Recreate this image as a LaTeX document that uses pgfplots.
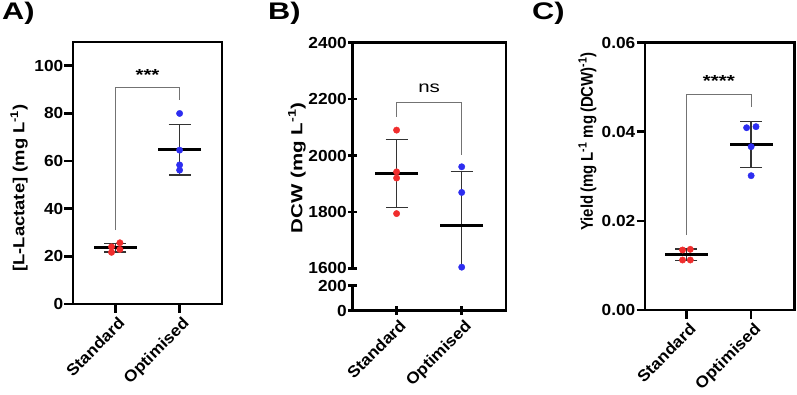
\documentclass[border=0pt]{standalone}
\usepackage{fontspec}
\setmainfont{Liberation Sans}
\newfontfamily\fA{Liberation Sans}[FakeStretch=1.08]
\newfontfamily\fB{Liberation Sans}[FakeStretch=1.28]
\newfontfamily\fC{Liberation Sans}[FakeStretch=0.88]
\newfontfamily\fL{Liberation Sans}[FakeStretch=1.15]
\usepackage{pgfplots}
\pgfplotsset{compat=1.18}

\definecolor{ptred}{RGB}{240,45,45}
\definecolor{ptblue}{RGB}{45,45,240}
\definecolor{brk}{gray}{0.45}

\tikzset{frame/.style={line width=2.7pt, line join=miter, black}}

\pgfplotsset{
  panel/.style={
    scale only axis,
    axis line style={line width=2.7pt, -},
    tick style={line width=2.7pt, black},
    major tick style={line width=2.7pt, black},
    major tick length=8.5pt,
    tick align=outside,
    xtick pos=lower, ytick pos=left,
    xtick={0,1}, xticklabels={Standard,Optimised},
    x tick label style={rotate=45, anchor=north east, inner sep=1pt, yshift=-3pt,
      font=\fA\fontsize{16}{16}\selectfont\bfseries},
    y tick label style={inner sep=1pt,
      font=\fA\fontsize{16}{16}\selectfont\bfseries},
    /pgf/number format/assume math mode=true,
    /pgf/number format/1000 sep={},
  },
  meansd/.style={black, only marks, mark=-, mark size=21.5pt,
    mark options={line width=2.7pt},
    error bars/.cd, y dir=both, y explicit,
    error mark=|,
    error bar style={line width=1.3pt, black!80},
    error mark options={mark size=11pt, line width=1.3pt, black!80}},
  redpts/.style={only marks, mark=*, mark size=3.2pt, ptred,
    mark options={draw=none, fill=ptred}},
  bluepts/.style={only marks, mark=*, mark size=3.2pt, ptblue,
    mark options={draw=none, fill=ptblue}},
  bracket/.style={brk, line width=1pt},
}

\begin{document}
\begin{tikzpicture}
\useasboundingbox (0,0) rectangle (797pt,394pt);

% panel letters
\node[anchor=west, font=\fB\fontsize{24}{24}\selectfont\bfseries, inner sep=0pt] at (2pt,380.5pt) {A)};
\node[anchor=west, font=\fB\fontsize{24}{24}\selectfont\bfseries, inner sep=0pt] at (268pt,380.5pt) {B)};
\node[anchor=west, font=\fB\fontsize{24}{24}\selectfont\bfseries, inner sep=0pt] at (532pt,380.5pt) {C)};

% ---------------- A: L-lactate titre ----------------
\begin{axis}[panel, name=A,
  at={(73pt,90pt)}, anchor=south west,
  width=149pt, height=262pt,
  xmin=-0.66, xmax=1.66, ymin=0, ymax=110,
  ytick={0,20,40,60,80,100},
  ylabel={[L-Lactate] (mg L\textsuperscript{-1})},
  ylabel style={at={(axis description cs:-0.362,0.443)}, anchor=center,
    font=\fL\fontsize{16}{16}\selectfont\bfseries},
]
\addplot[bracket] coordinates {(0,31) (0,90.9) (1,90.9) (1,85.8)};
\node[font=\fB\fontsize{16}{16}\selectfont\bfseries] at (axis cs:0.5,96) {***};
\addplot[meansd] coordinates {(0,23.6) +- (0,1.8) (1,64.8) +- (0,10.7)};
\addplot[redpts] coordinates {(-0.06,24.0) (0.07,25.7) (0.07,22.9) (-0.06,21.7)};
\addplot[bluepts] coordinates {(1,80.0) (1,64.6) (1,58.4) (1,56.2)};
\end{axis}
\draw[frame] (A.south west) rectangle (A.north east);

% ---------------- B: dry cell weight (broken axis) ----------------
\begin{axis}[panel, name=Bup,
  at={(352.3pt,125.7pt)}, anchor=south west,
  width=153.7pt, height=225.6pt,
  axis x line=none, axis y line=left,
  y axis line style={-},
  xtick=\empty,
  xmin=-0.68, xmax=1.68, ymin=1600, ymax=2400,
  ytick={1600,1800,2000,2200,2400},
  ylabel={DCW (mg L\textsuperscript{-1})},
  ylabel style={at={(axis description cs:-0.36,0.445)}, anchor=center,
    font=\fB\fontsize{16}{16}\selectfont\bfseries},
]
\addplot[bracket] coordinates {(0,2138) (0,2189) (1,2189) (1,2002)};
\node[font=\fB\fontsize{16}{16}\selectfont] at (axis cs:0.5,2240) {ns};
\addplot[meansd] coordinates {(0,1936.5) +- (0,121) (1,1751) +- (0,193)};
\addplot[redpts] coordinates {(0,2090) (0,1942) (0,1920) (0,1794)};
\addplot[bluepts] coordinates {(1,1960) (1,1869) (1,1604) (1,1571)};
\end{axis}
\begin{axis}[panel, name=Blo,
  at={(352.3pt,83.3pt)}, anchor=south west,
  width=153.7pt, height=25pt,
  axis x line=bottom, axis y line=left,
  x axis line style={-}, y axis line style={-},
  xmin=-0.68, xmax=1.68, ymin=0, ymax=200,
  ytick={0,200},
]
\end{axis}
\draw[frame] (Blo.north west) -- (Blo.south west) -- (Blo.south east)
  -- (Bup.north east) -- (Bup.north west) -- (Bup.south west);

% ---------------- C: yield ----------------
\begin{axis}[panel, name=C,
  at={(645pt,84pt)}, anchor=south west,
  width=149.5pt, height=267.3pt,
  xmin=-0.64, xmax=1.67, ymin=0, ymax=0.06,
  ytick={0,0.02,0.04,0.06},
  y tick label style={/pgf/number format/.cd, fixed, fixed zerofill, precision=2},
  scaled y ticks=false,
  ylabel={Yield\,(mg L\textsuperscript{-1} mg\,(DCW)\textsuperscript{-1})},
  ylabel style={at={(axis description cs:-0.385,0.63)}, anchor=center,
    font=\fC\fontsize{17}{17}\selectfont\bfseries},
]
\addplot[bracket] coordinates {(0,0.0168) (0,0.0484) (1,0.0484) (1,0.0455)};
\node[font=\fB\fontsize{16}{16}\selectfont\bfseries] at (axis cs:0.5,0.0513) {****};
\addplot[meansd] coordinates {(0,0.01238) +- (0,0.0013) (1,0.03722) +- (0,0.00516)};
\addplot[redpts] coordinates {(-0.06,0.01347) (0.06,0.01362) (-0.06,0.01122) (0.06,0.01122)};
\addplot[bluepts] coordinates {(0.93,0.04092) (1.075,0.04115) (1,0.03666) (1,0.03015)};
\end{axis}
\draw[frame] (C.south west) rectangle (C.north east);
\end{tikzpicture}
\end{document}
